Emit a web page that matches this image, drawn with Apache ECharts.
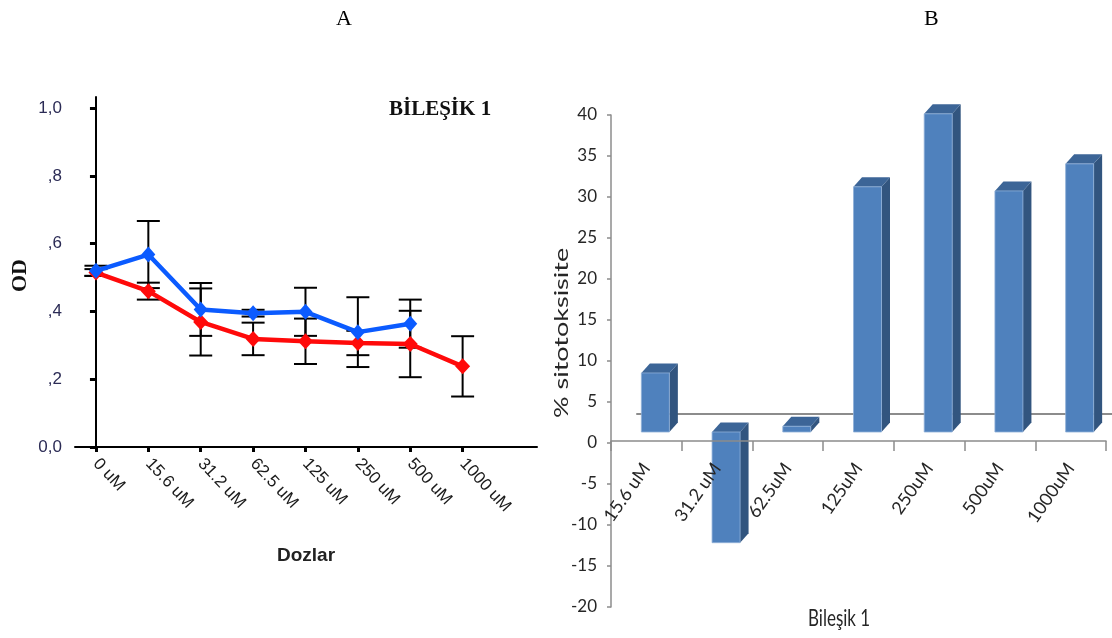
<!DOCTYPE html>
<html>
<head>
<meta charset="utf-8">
<script src="https://cdn.jsdelivr.net/npm/echarts@6/dist/echarts.min.js"></script>
<style>
  html, body { margin: 0; padding: 0; background: #fff; }
  #chart { width: 1112px; height: 638px; }
</style>
</head>
<body>
<div id="chart"></div>
<script>
// Panel A: optical density per dose, two groups with SD error bars
const doses = ['0 uM', '15.6 uM', '31.2 uM', '62.5 uM', '125 uM', '250 uM', '500 uM', '1000 uM'];
const blueMean = [0.520, 0.568, 0.406, 0.395, 0.399, 0.339, 0.364];
const blueSd   = [0.015, 0.099, 0.078, 0.010, 0.071, 0.103, 0.071];
const redMean  = [0.515, 0.460, 0.369, 0.319, 0.312, 0.307, 0.304, 0.238];
const redSd    = [0.010, 0.025, 0.099, 0.048, 0.067, 0.036, 0.098, 0.089];
const odTicks  = [0, 0.2, 0.4, 0.6, 0.8, 1.0];
const odTickLabels = ['0,0', ',2', ',4', ',6', ',8', '1,0'];

// Panel B: % cytotoxicity per dose
const barCats  = ['15.6 uM', '31.2 uM', '62.5uM', '125uM', '250uM', '500uM', '1000uM'];
const cytotox  = [7.2, -13.5, 0.7, 29.9, 38.8, 29.4, 32.7];

const chart = echarts.init(document.getElementById('chart'));

const doseIdx = doses.map((_, i) => i);

function errorBars(mean, sd) {
  return mean.map((m, i) => [i, m - sd[i], m + sd[i]]);
}

function renderErr(params, api) {
  const x = api.value(0);
  const a = api.coord([x, api.value(2)]);
  const b = api.coord([x, api.value(1)]);
  const h = 11.5;
  const st = { stroke: '#000', lineWidth: 2 };
  return {
    type: 'group',
    children: [
      { type: 'line', shape: { x1: a[0], y1: a[1], x2: b[0], y2: b[1] }, style: st },
      { type: 'line', shape: { x1: a[0] - h, y1: a[1], x2: a[0] + h, y2: a[1] }, style: st },
      { type: 'line', shape: { x1: b[0] - h, y1: b[1], x2: b[0] + h, y2: b[1] }, style: st }
    ]
  };
}

// pseudo-3D column: front face, right side, top face
function renderColumn(params, api) {
  const i = api.value(0), v = api.value(1);
  const p0 = api.coord([i, 0]);
  const p1 = api.coord([i, v]);
  const w = 28, dx = 8.5, dy = -9.5;
  const x0 = p0[0] - w / 2, x1 = x0 + w;
  const yTop = Math.min(p0[1], p1[1]);
  const yBot = Math.max(p0[1], p1[1]);
  return {
    type: 'group',
    children: [
      { type: 'polygon', shape: { points: [[x1, yTop], [x1 + dx, yTop + dy], [x1 + dx, yBot + dy], [x1, yBot]] },
        style: { fill: '#32557f' } },
      { type: 'polygon', shape: { points: [[x0, yTop], [x0 + dx, yTop + dy], [x1 + dx, yTop + dy], [x1, yTop]] },
        style: { fill: '#3c6597' } },
      { type: 'rect', shape: { x: x0, y: yTop, width: w, height: Math.max(yBot - yTop, 0.5) },
        style: { fill: '#4f81bd', stroke: '#8fb0d8', lineWidth: 0.8 } }
    ]
  };
}

const darkAxis = { lineStyle: { color: '#000', width: 2 } };
const grayAxis = { lineStyle: { color: '#8c8c8c', width: 1.5 } };
const gridBase = { outerBoundsMode: 'none', containLabel: false };

chart.setOption({
  animation: false,
  backgroundColor: '#fff',
  grid: [
    Object.assign({ left: 75, top: 97, width: 462, height: 350 }, gridBase),      // A
    Object.assign({ left: 637, top: 86, right: 0, height: 492 }, gridBase),       // B floor back edge
    Object.assign({ left: 611, top: 115, width: 495, height: 492 }, gridBase),    // B value axis
    Object.assign({ left: 620, top: 104, width: 495, height: 492 }, gridBase),    // B columns
    Object.assign({ left: 611, top: 115, width: 495, height: 326 }, gridBase)     // B category axis (positive half)
  ],
  xAxis: [
    {
      gridIndex: 0, type: 'value', min: -0.4, max: 8.42,
      splitLine: { show: false },
      axisLine: darkAxis,
      axisTick: { customValues: doseIdx, length: 5, lineStyle: { color: '#000', width: 3 } },
      axisLabel: {
        customValues: doseIdx, rotate: -47, margin: 14,
        formatter: v => doses[Math.round(v)],
        fontFamily: 'Liberation Sans, Arial', fontSize: 17, color: '#1a1a1a'
      }
    },
    {
      gridIndex: 1, type: 'category', data: barCats,
      axisLine: { onZero: true, lineStyle: { color: '#8c8c8c', width: 2 } },
      axisTick: { show: false }, axisLabel: { show: false }, splitLine: { show: false }
    },
    {
      gridIndex: 2, type: 'category', data: barCats, show: false
    },
    {
      gridIndex: 3, type: 'category', data: barCats, show: false
    },
    {
      gridIndex: 4, type: 'category', data: barCats, boundaryGap: true, position: 'bottom', z: 10,
      axisLine: Object.assign({ onZero: false }, grayAxis),
      axisTick: { show: true, interval: 0, length: 10, lineStyle: { color: '#8c8c8c', width: 1.5 } },
      axisLabel: {
        interval: 0, rotate: 55, margin: 24,
        fontFamily: 'Lato, Open Sans, sans-serif', fontSize: 18, color: '#262626'
      }
    }
  ],
  yAxis: [
    {
      gridIndex: 0, type: 'value', min: 0, max: 1.033,
      splitLine: { show: false },
      axisLine: Object.assign({ show: true }, darkAxis),
      axisTick: { show: true, customValues: odTicks, length: 6, lineStyle: { color: '#000', width: 3 } },
      axisLabel: {
        customValues: odTicks, margin: 13,
        formatter: v => odTickLabels[Math.round(v * 5)],
        fontFamily: 'Liberation Sans, Arial', fontSize: 17, color: '#2b2b55'
      }
    },
    { gridIndex: 1, type: 'value', min: -20, max: 40, show: false },
    {
      gridIndex: 2, type: 'value', min: -20, max: 40, interval: 5,
      splitLine: { show: false },
      axisLine: Object.assign({ show: true }, grayAxis),
      axisTick: { show: true, length: 4, lineStyle: { color: '#8c8c8c', width: 1.5 } },
      axisLabel: { margin: 14, fontFamily: 'Lato, Open Sans, sans-serif', fontSize: 17, color: '#262626' }
    },
    { gridIndex: 3, type: 'value', min: -20, max: 40, show: false },
    { gridIndex: 4, type: 'value', min: 0, max: 40, show: false }
  ],
  series: [
    {
      type: 'custom', xAxisIndex: 0, yAxisIndex: 0, z: 2,
      renderItem: renderErr, data: errorBars(redMean, redSd)
    },
    {
      type: 'custom', xAxisIndex: 0, yAxisIndex: 0, z: 2,
      renderItem: renderErr, data: errorBars(blueMean, blueSd)
    },
    {
      type: 'line', xAxisIndex: 0, yAxisIndex: 0, z: 3,
      data: redMean.map((m, i) => [i, m]),
      symbol: 'diamond', symbolSize: [15, 16], showAllSymbol: true,
      lineStyle: { color: '#ff0a0a', width: 4.5 },
      itemStyle: { color: '#ff0a0a' }
    },
    {
      type: 'line', xAxisIndex: 0, yAxisIndex: 0, z: 4,
      data: blueMean.map((m, i) => [i, m]),
      symbol: 'diamond', symbolSize: [14, 16], showAllSymbol: true,
      lineStyle: { color: '#0b5bff', width: 4.5 },
      itemStyle: { color: '#0b5bff' }
    },
    {
      type: 'custom', xAxisIndex: 3, yAxisIndex: 3, z: 5,
      renderItem: renderColumn,
      encode: { x: 0, y: 1 },
      data: cytotox.map((v, i) => [i, v])
    }
  ],
  graphic: [
    { type: 'text', left: 336, top: 8, style: { text: 'A', font: '22px "Liberation Serif", serif', fill: '#000' } },
    { type: 'text', left: 924, top: 8, style: { text: 'B', font: '22px "Liberation Serif", serif', fill: '#000' } },
    { type: 'text', x: 389, y: 99, style: { text: 'BİLEŞİK 1', font: 'bold 21px "Liberation Serif", serif', fill: '#111' } },
    { type: 'text', x: 9, y: 292, rotation: Math.PI / 2,
      style: { text: 'OD', font: 'bold 22px "Liberation Serif", serif', fill: '#111' } },
    { type: 'text', x: 277, y: 546, style: { text: 'Dozlar', font: 'bold 19px "Liberation Sans", Arial', fill: '#222' } },
    { type: 'text', x: 552, y: 418, rotation: Math.PI / 2, scaleX: 1.42,
      style: { text: '% sitotoksisite', font: '19px Lato, "Open Sans", sans-serif', fill: '#262626' } },
    { type: 'text', x: 808, y: 608, scaleY: 1.3,
      style: { text: 'Bileşik 1', font: '17px Lato, "Open Sans", sans-serif', fill: '#262626' } }
  ]
});
</script>
</body>
</html>
